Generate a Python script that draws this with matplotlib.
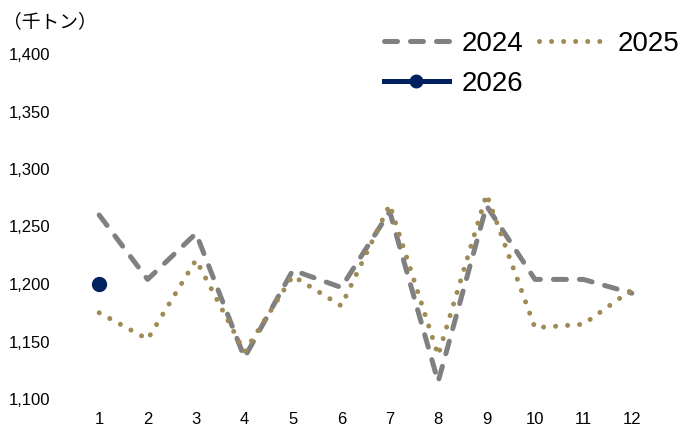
import matplotlib
matplotlib.use("Agg")
import matplotlib.pyplot as plt
from matplotlib.lines import Line2D

months = [1, 2, 3, 4, 5, 6, 7, 8, 9, 10, 11, 12]
v2024 = [1260, 1204, 1244, 1136, 1212, 1197, 1263, 1115, 1268, 1204, 1204, 1192]
v2025 = [1175, 1152, 1221, 1141, 1207, 1181, 1269, 1138, 1278, 1162, 1165, 1195]
months_2026 = [1]
v2026 = [1200]
yticks = [1100, 1150, 1200, 1250, 1300, 1350, 1400]
unit_label = "（千トン）"

plt.rcParams['font.family'] = ['Liberation Sans', 'DejaVu Sans']

fig = plt.figure(figsize=(6.82, 4.30), dpi=100)
ax = fig.add_axes([75/682, 1-399/430, (656-75)/682, (399-54)/430])

c24 = '#808080'
c25 = '#A08A55'
c26 = '#002060'

l24, = ax.plot(months, v2024, color=c24, lw=3.6, linestyle=(0, (2.6, 2.6)),
               dash_capstyle='round', solid_capstyle='round', label='2024')
l25, = ax.plot(months, v2025, color=c25, lw=3.6, linestyle=(0, (0.01, 2.4)),
               dash_capstyle='round', label='2025')
l26, = ax.plot(months_2026, v2026, color=c26, lw=3.6, marker='o', markersize=10,
               label='2026')

ax.set_xlim(0.5, 12.5)
ax.set_ylim(1100, 1400)
ax.set_xticks(months)
ax.set_xticklabels([str(m) for m in months], fontsize=12)
ax.set_yticks(yticks)
ax.set_yticklabels([f"{v:,}" for v in yticks], fontsize=12, ha='left')
ax.tick_params(axis='y', length=0, pad=48)
ax.tick_params(axis='x', length=0, pad=9)
for s in ax.spines.values():
    s.set_visible(False)

fig.text(3/682, 1-22/430, unit_label, fontsize=13.5, va='center', ha='left',
         family=['Noto Sans CJK JP', 'DejaVu Sans'])

h26 = Line2D([], [], color=c26, lw=3.6, marker='o', markersize=9)
leg = fig.legend([l24, h26, l25], ['2024', '2026', '2025'], ncol=2,
                 loc='upper right', bbox_to_anchor=(704/682, 1-6/430),
                 frameon=False, fontsize=20, handlelength=2.35,
                 handletextpad=0.47, columnspacing=0.55, labelspacing=0.5)

fig.savefig('out.png', dpi=100)
